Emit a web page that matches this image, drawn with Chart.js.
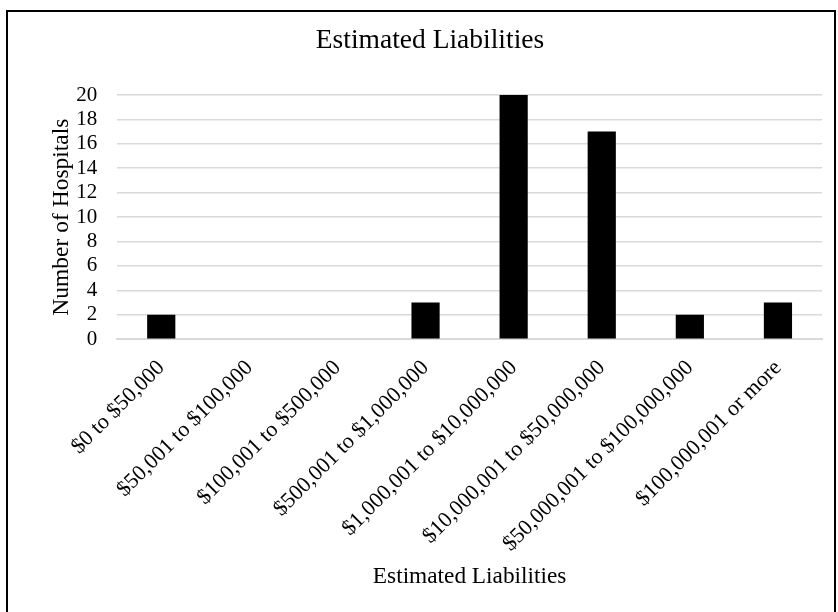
<!DOCTYPE html>
<html>
<head>
<meta charset="utf-8">
<script src="https://cdn.jsdelivr.net/npm/chart.js@4"></script>
<style>
  body { margin: 0; background: #fff; }
  #frame {
    position: absolute; left: 6px; top: 10px;
    width: 830px; height: 610px;
    border: 2px solid #000; box-sizing: border-box;
  }
  #wrap { position: absolute; left: 0; top: 0; width: 824px; height: 600px; }
</style>
</head>
<body>
<div id="frame"><div id="wrap"><canvas id="barChart"></canvas></div></div>
<script>
// Categories and values
const categories = [
  "$0 to $50,000",
  "$50,001 to $100,000",
  "$100,001 to $500,000",
  "$500,001 to $1,000,000",
  "$1,000,001 to $10,000,000",
  "$10,000,001 to $50,000,000",
  "$50,000,001 to $100,000,000",
  "$100,000,001 or more"
];
const hospitals = [2, 0, 0, 3, 20, 17, 2, 3];
const yTicks = [0, 2, 4, 6, 8, 10, 12, 14, 16, 18, 20];

const serif = "'Liberation Serif', 'Times New Roman', serif";

var ctx = document.getElementById("barChart").getContext("2d");

var barChart = new Chart(ctx, {
  type: "bar",
  data: {
    labels: categories,
    datasets: [
      {
        label: "Number of Hospitals",
        data: hospitals,
        backgroundColor: "#000000",
        barPercentage: 0.32,
        categoryPercentage: 1.0,
      }
    ],
  },
  options: {
    responsive: true,
    maintainAspectRatio: false,
    animation: false,
    layout: { padding: { left: 30, right: 10, top: 0, bottom: 21 } },
    plugins: {
      legend: { display: false },
      tooltip: { enabled: false },
      title: {
        display: true,
        text: "Estimated Liabilities",
        color: "#000",
        font: { family: serif, size: 27.5, weight: "normal" },
        padding: { top: 12, bottom: 38 },
      },
    },
    scales: {
      x: {
        grid: { display: false, drawTicks: false },
        border: { color: "#d9d9d9", width: 2 },
        ticks: {
          color: "#000",
          font: { family: serif, size: 22 },
          maxRotation: 45,
          minRotation: 45,
          autoSkip: false,
          padding: 16,
        },
        title: {
          display: true,
          text: "Estimated Liabilities",
          color: "#000",
          font: { family: serif, size: 23.3 },
          padding: { top: -10, bottom: 0 },
        },
      },
      y: {
        min: 0,
        max: 20,
        afterBuildTicks: (axis) => { axis.ticks = yTicks.map((v) => ({ value: v })); },
        grid: { color: "#d9d9d9", lineWidth: 1.5, drawTicks: false },
        border: { display: false },
        ticks: {
          color: "#000",
          font: { family: serif, size: 21 },
          padding: 20,
          autoSkip: false,
        },
        title: {
          display: true,
          text: "Number of Hospitals",
          color: "#000",
          font: { family: serif, size: 23.5 },
          padding: { top: 10, bottom: -20 },
        },
      },
    },
  },
});
</script>
</body>
</html>
